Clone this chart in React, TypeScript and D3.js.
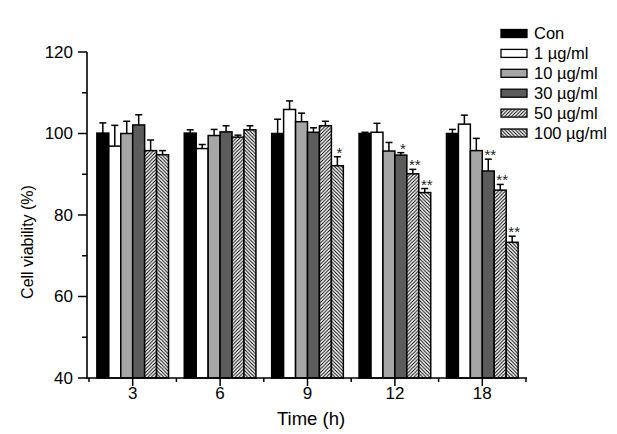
import React from "react";
import * as d3 from "d3";

const times = ["3", "6", "9", "12", "18"];
const series = ["Con", "1 µg/ml", "10 µg/ml", "30 µg/ml", "50 µg/ml", "100 µg/ml"];
const conVals = [100.1, 100.1, 100.0, 100.0, 100.0];
const conErr = [2.5, 0.8, 3.5, 0.3, 1.0];
const c1Vals = [96.9, 96.3, 105.9, 100.3, 102.3];
const c1Err = [5.1, 1.0, 2.1, 2.2, 2.2];
const c10Vals = [100.0, 99.5, 102.9, 95.7, 95.8];
const c10Err = [3.0, 1.5, 2.1, 2.1, 3.0];
const c30Vals = [102.1, 100.4, 100.3, 94.7, 90.8];
const c30Err = [2.5, 1.5, 1.1, 0.6, 2.9];
const c50Vals = [95.8, 99.1, 101.9, 90.1, 86.1];
const c50Err = [2.6, 0.5, 1.1, 1.1, 1.4];
const c100Vals = [94.8, 100.9, 92.1, 85.5, 73.3];
const c100Err = [1.0, 1.0, 2.2, 1.0, 1.5];
const sig = [
  ["", "", "", "", ""],
  ["", "", "", "", ""],
  ["", "", "", "", ""],
  ["", "", "", "*", "**"],
  ["", "", "", "**", "**"],
  ["", "", "*", "**", "**"],
];
const yTicks = [40, 60, 80, 100, 120];
const yMinor = [50, 70, 90, 110];

const allVals = [conVals, c1Vals, c10Vals, c30Vals, c50Vals, c100Vals];
const allErr = [conErr, c1Err, c10Err, c30Err, c50Err, c100Err];
const fills = ["#000000", "#ffffff", "#a6a6a6", "#5c5c5c", "url(#hatchF)", "url(#hatchB)"];

const FONT = "'Liberation Sans', Arial, sans-serif";

export default function App() {
  const x0 = d3.scaleBand<string>().domain(times).range([89, 526]).paddingInner(0.18).paddingOuter(0.09);
  const x1 = d3.scaleBand<string>().domain(series).range([0, x0.bandwidth()]);
  const y = d3.scaleLinear().domain([40, 120]).range([378, 52]);
  const step = x0.step();
  const xMinor = [...times.map((t) => x0(t)! + x0.bandwidth() / 2 - step / 2), x0(times[times.length - 1])! + x0.bandwidth() / 2 + step / 2];

  return (
    <svg width={617} height={434} style={{ position: "absolute", left: 0, top: 0, background: "#fff" }} fontFamily={FONT}>
      <defs>
        <pattern id="hatchF" patternUnits="userSpaceOnUse" width={3.5} height={3.5}>
          <rect width={3.5} height={3.5} fill="#fff" />
          <path d="M-1,1 L1,-1 M0,3.5 L3.5,0 M2.5,4.5 L4.5,2.5" stroke="#000" strokeWidth={1} />
        </pattern>
        <pattern id="hatchB" patternUnits="userSpaceOnUse" width={3.5} height={3.5}>
          <rect width={3.5} height={3.5} fill="#fff" />
          <path d="M-1,2.5 L1,4.5 M0,0 L3.5,3.5 M2.5,-1 L4.5,1" stroke="#000" strokeWidth={1} />
        </pattern>
      </defs>

      {times.map((t, ti) => (
        <g key={t}>
          {series.map((s, si) => {
            const v = allVals[si][ti];
            const e = allErr[si][ti];
            const bx = x0(t)! + x1(s)!;
            const bw = x1.bandwidth();
            const cx = bx + bw / 2;
            return (
              <g key={s}>
                <line x1={cx} x2={cx} y1={y(v)} y2={y(v + e)} stroke="#000" strokeWidth={1.5} />
                <line x1={cx - 3.5} x2={cx + 3.5} y1={y(v + e)} y2={y(v + e)} stroke="#000" strokeWidth={1.5} />
                <rect x={bx} y={y(v)} width={bw} height={y(40) - y(v)} fill={fills[si]} stroke="#000" strokeWidth={1.5} />
                {sig[si][ti] && (
                  <text x={cx + 2} y={y(v + e) + 1} fontSize={15} textAnchor="middle" fill="#222">
                    {sig[si][ti]}
                  </text>
                )}
              </g>
            );
          })}
        </g>
      ))}

      {/* y axis */}
      <line x1={87} x2={87} y1={y(120)} y2={y(40) + 0.75} stroke="#000" strokeWidth={1.6} />
      {yTicks.map((t) => (
        <g key={t}>
          <line x1={78} x2={87} y1={y(t)} y2={y(t)} stroke="#000" strokeWidth={1.5} />
          <text x={73} y={y(t)} dy="0.35em" fontSize={17} textAnchor="end" fill="#000">{t}</text>
        </g>
      ))}
      {yMinor.map((t) => (
        <line key={t} x1={82} x2={87} y1={y(t)} y2={y(t)} stroke="#000" strokeWidth={1.5} />
      ))}
      <text transform="translate(33,242) rotate(-90)" fontSize={16} textAnchor="middle" fill="#000">Cell viability (%)</text>

      {/* x axis */}
      <line x1={87} x2={527} y1={y(40)} y2={y(40)} stroke="#000" strokeWidth={1.6} />
      {times.map((t) => {
        const cx = x0(t)! + x0.bandwidth() / 2;
        return (
          <g key={t}>
            <line x1={cx} x2={cx} y1={y(40)} y2={y(40) + 8} stroke="#000" strokeWidth={1.5} />
            <text x={cx} y={399} fontSize={17} textAnchor="middle" fill="#000">{t}</text>
          </g>
        );
      })}
      {xMinor.map((mx, i) => (
        <line key={i} x1={mx} x2={mx} y1={y(40)} y2={y(40) + 4} stroke="#000" strokeWidth={1.5} />
      ))}
      <text x={311} y={425} fontSize={18.5} textAnchor="middle" fill="#000">Time (h)</text>

      {/* legend */}
      {series.map((s, si) => (
        <g key={s} transform={`translate(501,${33.5 + si * 19.9})`}>
          <rect x={0} y={-4} width={26} height={8} fill={fills[si]} stroke="#000" strokeWidth={1.3} />
          <text x={33} y={0} dy="0.35em" fontSize={16.5} fill="#000">{s}</text>
        </g>
      ))}
    </svg>
  );
}
